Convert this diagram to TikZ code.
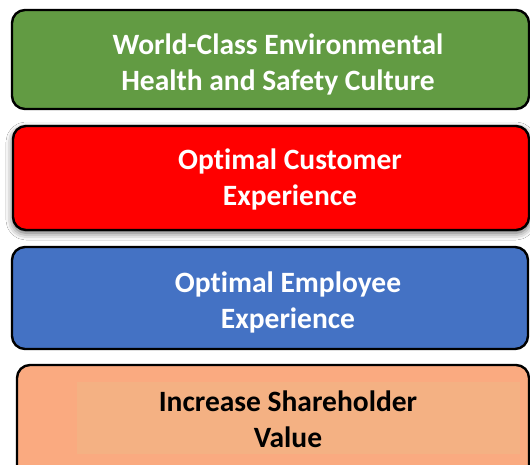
\documentclass[tikz,border=0pt]{standalone}
\usepackage{fontspec}
\setmainfont{Carlito}[RawFeature={-liga}]
\usetikzlibrary{shadows.blur}
\definecolor{boxgreen}{HTML}{629B43}
\definecolor{boxred}{HTML}{FF0000}
\definecolor{boxblue}{HTML}{4472C4}
\definecolor{boxsalmon}{HTML}{FAAA80}
\definecolor{innersalmon}{HTML}{F4B183}
\begin{document}
\begin{tikzpicture}[x=1pt,y=-1pt,
  pill/.style={draw=black,line width=2.4pt,rounded corners=13pt},
  lbl/.style={align=center,font=\fontsize{29.5}{36}\selectfont\bfseries,inner sep=0pt}]
\useasboundingbox (0,0) rectangle (530,464);
\fill[white] (0,0) rectangle (530,464);
\draw[pill,fill=boxgreen] (12,10) rectangle (529,109);
\draw[pill,fill=boxred,blur shadow={shadow xshift=0pt,shadow yshift=-3pt,shadow blur radius=7pt,shadow opacity=65}] (13,126) rectangle (529,230);
\draw[pill,fill=boxblue] (12,247) rectangle (528,349);
\draw[pill,fill=boxsalmon] (17,365) rectangle (529,480);
\fill[innersalmon] (77,382) rectangle (520,454);
\node[lbl,text=white] (t1) at (278,64) {World-Class Environmental\\Health and Safety Culture};
\node[lbl,text=white] (t2) at (290,179.5) {Optimal Customer\\Experience};
\node[lbl,text=white] (t3) at (288,302) {Optimal Employee\\Experience};
\node[lbl,text=black] (t4) at (288,419) {Increase Shareholder\\Value};
\end{tikzpicture}
\end{document}
